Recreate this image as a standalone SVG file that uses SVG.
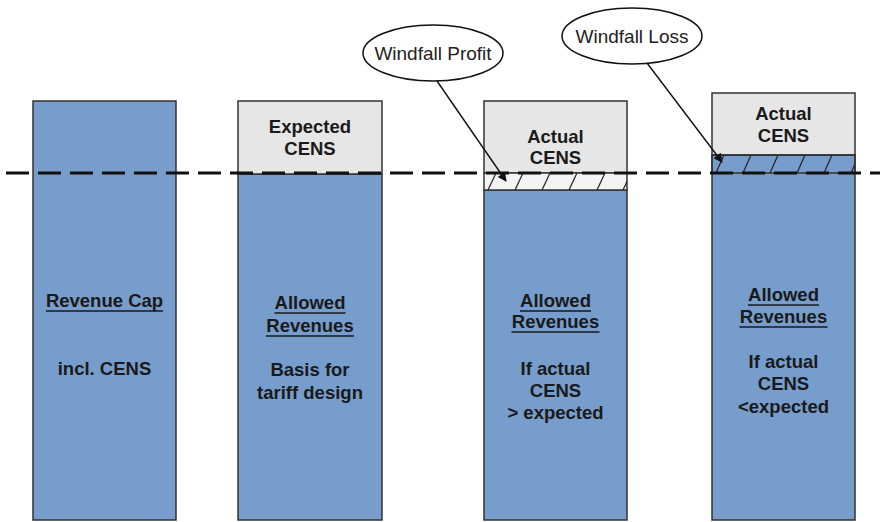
<svg xmlns="http://www.w3.org/2000/svg" width="880" height="522" viewBox="0 0 880 522">
  <style>
    .bar { fill: #769dcb; stroke: #333; stroke-width: 1.5; }
    .cens { fill: #e6e6e6; stroke: #333; stroke-width: 1.5; }
    .hatch { stroke: #222; stroke-width: 1.2; }
    .lbl { font-family: "Liberation Sans", Arial, sans-serif; font-size: 18.5px; font-weight: bold; fill: #1a1a1a; text-anchor: middle; }
    .ul { stroke: #1a1a1a; stroke-width: 1.6; }
    .bubble { fill: #fff; stroke: #111; stroke-width: 1.5; }
    .btxt { font-family: "Liberation Sans", Arial, sans-serif; font-size: 19px; fill: #222; text-anchor: middle; }
    .conn { stroke: #111; stroke-width: 1.4; fill: none; marker-end: url(#arrow); }
    .dash { stroke: #111; stroke-width: 3; stroke-dasharray: 23 9; fill: none; }
  </style>
  <defs>
    <marker id="arrow" viewBox="0 0 10 10" refX="9" refY="5" markerWidth="12" markerHeight="9" markerUnits="userSpaceOnUse" orient="auto">
      <path d="M0,0 L10,5 L0,10 z" fill="#111"/>
    </marker>
    <clipPath id="clipProfit"><rect x="484" y="173" width="143" height="17"/></clipPath>
    <clipPath id="clipLoss"><rect x="712" y="155" width="143" height="18"/></clipPath>
  </defs>

  <!-- Revenue cap -->
  <g id="revenue-cap">
    <rect class="bar" x="33" y="101" width="143" height="419"/>
    <text class="lbl" x="104.5" y="307">Revenue Cap</text>
    <line class="ul" x1="46" y1="311" x2="163" y2="311"/>
    <text class="lbl" x="104.5" y="375">incl. CENS</text>
  </g>

  <!-- Allowed revenues with expected CENS -->
  <g id="expected">
    <rect class="bar" x="238" y="174" width="144" height="346"/>
    <rect class="cens" x="238" y="101" width="144" height="73"/>
    <text class="lbl" x="310" y="133">Expected</text>
    <text class="lbl" x="310" y="155">CENS</text>
    <text class="lbl" x="310" y="309">Allowed</text>
    <line class="ul" x1="274.5" y1="313" x2="345.5" y2="313"/>
    <text class="lbl" x="310" y="332">Revenues</text>
    <line class="ul" x1="266" y1="336" x2="354" y2="336"/>
    <text class="lbl" x="310" y="376">Basis for</text>
    <text class="lbl" x="310" y="399">tariff design</text>
  </g>

  <!-- Actual CENS above expected -->
  <g id="actual-higher">
    <rect class="bar" x="484" y="190" width="143" height="330"/>
    <rect class="cens" x="484" y="101" width="143" height="72"/>
    <rect x="484" y="173" width="143" height="17" fill="#f4f4f4" stroke="#333" stroke-width="1.5"/>
    <g clip-path="url(#clipProfit)">
      <line class="hatch" x1="488" y1="190" x2="496" y2="173"/>
      <line class="hatch" x1="515" y1="190" x2="523" y2="173"/>
      <line class="hatch" x1="542" y1="190" x2="550" y2="173"/>
      <line class="hatch" x1="569" y1="190" x2="577" y2="173"/>
      <line class="hatch" x1="597" y1="190" x2="605" y2="173"/>
      <line class="hatch" x1="623" y1="190" x2="631" y2="173"/>
    </g>
    <text class="lbl" x="555.5" y="143">Actual</text>
    <text class="lbl" x="555.5" y="164">CENS</text>
    <text class="lbl" x="555.5" y="307">Allowed</text>
    <line class="ul" x1="520" y1="311" x2="591" y2="311"/>
    <text class="lbl" x="555.5" y="328">Revenues</text>
    <line class="ul" x1="511.5" y1="332" x2="599.5" y2="332"/>
    <text class="lbl" x="555.5" y="375">If actual</text>
    <text class="lbl" x="555.5" y="397">CENS</text>
    <text class="lbl" x="555.5" y="419">&gt; expected</text>
  </g>

  <!-- Actual CENS below expected -->
  <g id="actual-lower">
    <rect class="bar" x="712" y="155" width="143" height="365"/>
    <rect class="cens" x="712" y="93" width="143" height="62"/>
    <g clip-path="url(#clipLoss)">
      <line class="hatch" x1="716" y1="173" x2="724" y2="155"/>
      <line class="hatch" x1="743" y1="173" x2="751" y2="155"/>
      <line class="hatch" x1="770" y1="173" x2="778" y2="155"/>
      <line class="hatch" x1="797" y1="173" x2="805" y2="155"/>
      <line class="hatch" x1="824" y1="173" x2="832" y2="155"/>
      <line class="hatch" x1="851" y1="173" x2="859" y2="155"/>
    </g>
    <rect x="712" y="155" width="143" height="18" fill="none" stroke="#333" stroke-width="1.5"/>
    <text class="lbl" x="783.5" y="120">Actual</text>
    <text class="lbl" x="783.5" y="142">CENS</text>
    <text class="lbl" x="783.5" y="301">Allowed</text>
    <line class="ul" x1="748" y1="305" x2="819" y2="305"/>
    <text class="lbl" x="783.5" y="323">Revenues</text>
    <line class="ul" x1="739.5" y1="327" x2="827.5" y2="327"/>
    <text class="lbl" x="783.5" y="368">If actual</text>
    <text class="lbl" x="783.5" y="390">CENS</text>
    <text class="lbl" x="783.5" y="413">&lt;expected</text>
  </g>

  <!-- Callouts -->
  <g id="windfall-profit">
    <ellipse class="bubble" cx="433" cy="53" rx="70" ry="28"/>
    <text class="btxt" x="433" y="60">Windfall Profit</text>
  </g>
  <g id="windfall-loss">
    <ellipse class="bubble" cx="632" cy="36" rx="70" ry="28"/>
    <text class="btxt" x="632" y="43">Windfall Loss</text>
  </g>

  <!-- Connectors and reference line -->
  <g id="connectors">
    <line class="dash" x1="6" y1="173" x2="880" y2="173"/>
    <line class="conn" x1="437" y1="81" x2="506" y2="181"/>
    <line class="conn" x1="647" y1="63" x2="722" y2="162"/>
  </g>
</svg>
